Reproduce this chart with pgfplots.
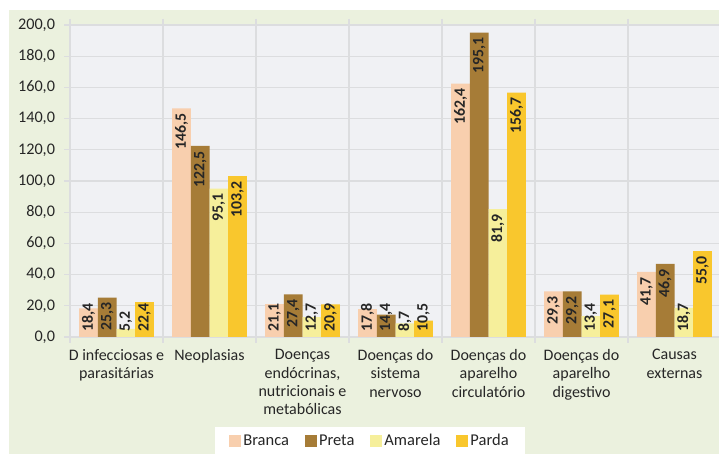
\documentclass[border=0pt]{standalone}
\usepackage{pgfplots}
\pgfplotsset{compat=1.18}
\usepackage{fontspec}
\setmainfont{Carlito}
\definecolor{branca}{HTML}{F8CFAE}
\definecolor{preta}{HTML}{A67C37}
\definecolor{amarela}{HTML}{F6EF9B}
\definecolor{parda}{HTML}{F9C72D}
\definecolor{panelbg}{HTML}{EBF1DE}
\definecolor{plotbg}{HTML}{F0F1F4}
\definecolor{gridc}{HTML}{DCDDDF}
\definecolor{txt}{HTML}{262626}
\begin{document}
\begin{tikzpicture}[x=1pt,y=1pt]
\useasboundingbox (0,0) rectangle (719,454);
\fill[panelbg] (9,0) rectangle (719,444);
\begin{axis}[
  at={(70pt,117pt)}, anchor=south west,
  scale only axis, width=651pt, height=312pt,
  xmin=-0.5, xmax=6.5, ymin=0, ymax=200,
  axis background/.style={fill=plotbg},
  axis line style={draw=none},
  ybar=0pt, bar width=18.7pt,
  ytick={0,20,...,200},
  xtick={0,...,6},
  xticklabels={{D infecciosas e\\parasitárias},{Neoplasias},{Doenças\\endócrinas,\\nutricionais e\\metabólicas},{Doenças do\\sistema\\nervoso},{Doenças do\\aparelho\\circulatório},{Doenças do\\aparelho\\digestivo},{Causas\\externas}},
  minor xtick={-0.5,0.5,...,6.5},
  xminorgrids=true, ymajorgrids=true,
  grid style={gridc, line width=1.3pt},
  minor grid style={gridc, line width=1.3pt},
  tick align=outside,
  major tick length=6pt, minor tick length=6pt,
  tick style={gridc, line width=1.3pt},
  major x tick style={draw=none},
  yticklabel style={font=\fontsize{16.2}{19}\selectfont, text=txt, xshift=-5.5pt},
  xticklabel style={font=\fontsize{16}{18.3}\selectfont, text=txt, align=center, anchor=north, yshift=-3pt},
  /pgf/number format/.cd, fixed, fixed zerofill, precision=1, use comma, assume math mode=true,
  /pgfplots/.cd,
  visualization depends on={rawy \as \yv},
  nodes near coords={\pgfmathprintnumber[fixed,fixed zerofill,precision=1,use comma,assume math mode=true]{\pgfplotspointmeta}},
  every node near coord/.append style={font=\fontsize{15.8}{18}\selectfont\bfseries, text=txt, inner sep=0pt,
     yshift={max(-5, 6+(\yv<10 ? 19.6 : 27.5)-1.56*\yv)}, rotate=90, anchor=east},
  legend columns=4,
  legend style={at={(0.4608,-0.2885)}, anchor=north, draw=none, fill=white,
     font=\fontsize{16.5}{19}\selectfont, text=txt, inner xsep=14pt, inner ysep=5pt,
     nodes={inner xsep=2pt},
     /tikz/every even column/.append style={column sep=14pt}},
  legend image code/.code={\fill[#1] (0pt,-6pt) rectangle (12pt,6pt);},
]
\addplot[fill=branca, draw=none] coordinates {(0,18.4) (1,146.5) (2,21.1) (3,17.8) (4,162.4) (5,29.3) (6,41.7)};
\addplot[fill=preta, draw=none] coordinates {(0,25.3) (1,122.5) (2,27.4) (3,14.4) (4,195.1) (5,29.2) (6,46.9)};
\addplot[fill=amarela, draw=none] coordinates {(0,5.2) (1,95.1) (2,12.7) (3,8.7) (4,81.9) (5,13.4) (6,18.7)};
\addplot[fill=parda, draw=none] coordinates {(0,22.4) (1,103.2) (2,20.9) (3,10.5) (4,156.7) (5,27.1) (6,55.0)};
\legend{Branca,Preta,Amarela,Parda}
\end{axis}
\end{tikzpicture}
\end{document}
